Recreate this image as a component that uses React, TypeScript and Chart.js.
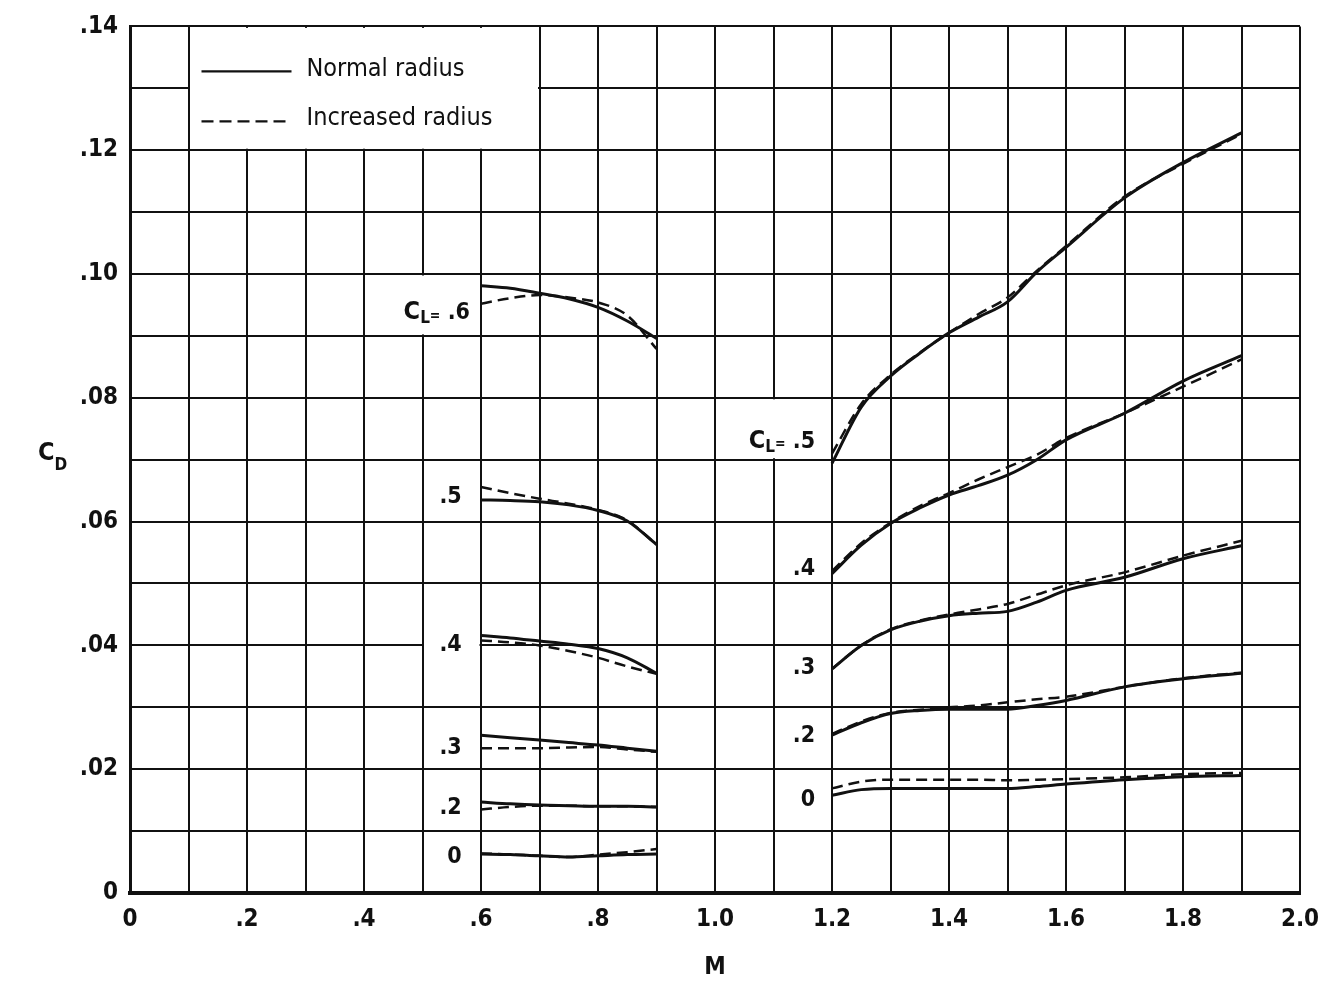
import { useEffect, useRef } from 'react';
import { Chart, registerables } from 'chart.js';

Chart.register(...registerables);

// ---------- data ----------
const machSubsonic = [0.6, 0.65, 0.7, 0.75, 0.8, 0.85, 0.9];
const machSupersonic = [1.2, 1.25, 1.3, 1.35, 1.4, 1.45, 1.5, 1.55, 1.6, 1.7, 1.8, 1.9];

// subsonic, normal radius (solid)
const normalSubCL6 = [0.0981, 0.0977, 0.0969, 0.096, 0.0946, 0.0924, 0.0896];
const normalSubCL5 = [0.0635, 0.0634, 0.0632, 0.0627, 0.0618, 0.0601, 0.0563];
const normalSubCL4 = [0.0416, 0.0412, 0.0407, 0.0402, 0.0395, 0.038, 0.0355];
const normalSubCL3 = [0.0255, 0.0251, 0.0247, 0.0243, 0.0239, 0.0234, 0.0229];
const normalSubCL2 = [0.0147, 0.0144, 0.0142, 0.0141, 0.014, 0.014, 0.0139];
const normalSubCL0 = [0.0063, 0.0062, 0.006, 0.0058, 0.006, 0.0062, 0.0063];

// subsonic, increased radius (dashed)
const increasedSubCL6 = [0.0952, 0.0961, 0.0966, 0.0962, 0.0954, 0.0933, 0.0879];
const increasedSubCL5 = [0.0656, 0.0646, 0.0637, 0.0629, 0.0619, 0.0602, 0.0563];
const increasedSubCL4 = [0.0408, 0.0405, 0.04, 0.0391, 0.038, 0.0366, 0.0354];
const increasedSubCL3 = [0.0234, 0.0234, 0.0234, 0.0235, 0.0236, 0.0232, 0.0228];
const increasedSubCL2 = [0.0135, 0.0139, 0.0141, 0.0141, 0.014, 0.014, 0.0139];
const increasedSubCL0 = [0.0064, 0.0062, 0.006, 0.0058, 0.0062, 0.0066, 0.0071];

// supersonic, normal radius (solid)
const normalSupCL5 = [0.0694, 0.0785, 0.0835, 0.0872, 0.0905, 0.093, 0.0955, 0.1003, 0.1043, 0.1123, 0.118, 0.1228];
const normalSupCL4 = [0.0516, 0.0562, 0.0597, 0.0622, 0.0643, 0.0658, 0.0675, 0.07, 0.0732, 0.0775, 0.0827, 0.0868];
const normalSupCL3 = [0.0362, 0.04, 0.0425, 0.0439, 0.0448, 0.0452, 0.0455, 0.047, 0.0489, 0.051, 0.054, 0.0561];
const normalSupCL2 = [0.0255, 0.0275, 0.029, 0.0295, 0.0297, 0.0297, 0.0297, 0.0303, 0.0311, 0.0333, 0.0346, 0.0355];
const normalSupCL0 = [0.0158, 0.0167, 0.0169, 0.0169, 0.0169, 0.0169, 0.0169, 0.0172, 0.0176, 0.0183, 0.0188, 0.019];

// supersonic, increased radius (dashed)
const increasedSupCL5 = [0.071, 0.079, 0.0837, 0.0873, 0.0905, 0.0935, 0.0962, 0.1005, 0.1045, 0.1125, 0.1178, 0.1226];
const increasedSupCL4 = [0.052, 0.0565, 0.0598, 0.0625, 0.0646, 0.0668, 0.0688, 0.0708, 0.0735, 0.0775, 0.0818, 0.0862];
const increasedSupCL3 = [0.0362, 0.04, 0.0426, 0.044, 0.045, 0.0458, 0.0467, 0.0482, 0.0497, 0.0518, 0.0545, 0.0569];
const increasedSupCL2 = [0.0257, 0.0277, 0.0291, 0.0296, 0.03, 0.0303, 0.0308, 0.0313, 0.0317, 0.0333, 0.0347, 0.0356];
const increasedSupCL0 = [0.0169, 0.018, 0.0183, 0.0183, 0.0183, 0.0183, 0.0182, 0.0183, 0.0184, 0.0187, 0.0192, 0.0194];

const legendLabels = ['Normal radius', 'Increased radius'];
const xTitle = 'M';

// curve labels: text, prefix flag, anchor (mach of right edge, CD of middle)
const curveLabelTexts = ['.6', '.5', '.4', '.3', '.2', '0', '.5', '.4', '.3', '.2', '0'];
const curveLabelWithCL = [true, false, false, false, false, false, true, false, false, false, false];
const curveLabelMach = [0.581, 0.567, 0.567, 0.567, 0.567, 0.567, 1.171, 1.171, 1.171, 1.171, 1.171];
const curveLabelCD = [0.0937, 0.0639, 0.04, 0.0234, 0.0137, 0.0058, 0.0729, 0.0524, 0.0363, 0.0253, 0.015];

// white patches behind labels (grid cells): [m0, m1, cd0, cd1]
const whiteCells = [
  [0.1, 0.7, 0.12, 0.14],
  [0.4, 0.6, 0.09, 0.1],
  [0.5, 0.6, 0.03, 0.05],
  [1.0, 1.2, 0.07, 0.08],
];

const FONT = "'DejaVu Sans Condensed', 'Liberation Sans Narrow', 'DejaVu Sans', sans-serif";

function series(mach: number[], cd: number[], dashed: boolean, label: string) {
  return {
    label,
    data: mach.map((m, i) => ({ x: m, y: cd[i] })),
    borderColor: '#111',
    borderWidth: dashed ? 2.5 : 3,
    borderDash: dashed ? [11, 6] : [],
    pointRadius: 0,
    fill: false,
    cubicInterpolationMode: 'monotone' as const,
  };
}

function drawSegments(
  ctx: CanvasRenderingContext2D,
  rightX: number,
  midY: number,
  segs: { t: string; size: number; dy: number }[]
) {
  let total = 0;
  for (const s of segs) {
    ctx.font = `bold ${s.size}px ${FONT}`;
    total += ctx.measureText(s.t).width;
  }
  let x = rightX - total;
  ctx.textAlign = 'left';
  ctx.textBaseline = 'middle';
  for (const s of segs) {
    ctx.font = `bold ${s.size}px ${FONT}`;
    ctx.fillText(s.t, x, midY + s.dy);
    x += ctx.measureText(s.t).width;
  }
}

const overlayPlugin = {
  id: 'overlay',
  beforeDatasetsDraw(chart: any) {
    const { ctx, scales } = chart;
    const xs = scales.x;
    const ys = scales.y;
    ctx.save();
    ctx.fillStyle = '#fff';
    for (const [m0, m1, c0, c1] of whiteCells) {
      const L = xs.getPixelForValue(m0) + 1.5;
      const R = xs.getPixelForValue(m1) - 1.5;
      const T = ys.getPixelForValue(c1) + 1.5;
      const B = ys.getPixelForValue(c0) - 1.5;
      ctx.fillRect(L, T, R - L, B - T);
    }

    // legend
    const lx = xs.getPixelForValue(0.1);
    const ly = ys.getPixelForValue(0.14);
    ctx.strokeStyle = '#111';
    ctx.lineWidth = 2.2;
    ctx.setLineDash([]);
    ctx.beginPath();
    ctx.moveTo(lx + 13, ly + 45);
    ctx.lineTo(lx + 103, ly + 45);
    ctx.stroke();
    ctx.setLineDash([12, 6]);
    ctx.beginPath();
    ctx.moveTo(lx + 13, ly + 95);
    ctx.lineTo(lx + 103, ly + 95);
    ctx.stroke();
    ctx.setLineDash([]);
    ctx.fillStyle = '#111';
    ctx.font = `500 25px ${FONT}`;
    ctx.textAlign = 'left';
    ctx.textBaseline = 'middle';
    ctx.fillText(legendLabels[0], lx + 118, ly + 43);
    ctx.fillText(legendLabels[1], lx + 118, ly + 92);

    // curve labels
    curveLabelTexts.forEach((t, i) => {
      const rx = xs.getPixelForValue(curveLabelMach[i]);
      const my = ys.getPixelForValue(curveLabelCD[i]);
      const segs = curveLabelWithCL[i]
        ? [
            { t: 'C', size: 25, dy: 0 },
            { t: 'L', size: 17, dy: 6 },
            { t: '=', size: 14, dy: 3 },
            { t: ' ' + t, size: 23, dy: 0 },
          ]
        : [{ t, size: 23, dy: 0 }];
      drawSegments(ctx, rx, my, segs);
    });
    ctx.restore();
  },
  afterDraw(chart: any) {
    const { ctx, chartArea } = chart;
    ctx.save();
    ctx.fillStyle = '#111';
    // y title C_D
    ctx.textAlign = 'left';
    ctx.textBaseline = 'middle';
    ctx.font = `bold 25px ${FONT}`;
    ctx.fillText('C', 38, 453);
    const w = ctx.measureText('C').width;
    ctx.font = `bold 17px ${FONT}`;
    ctx.fillText('D', 38 + w, 466);
    // x title
    ctx.textAlign = 'center';
    ctx.font = `bold 24px ${FONT}`;
    ctx.fillText(xTitle, (chartArea.left + chartArea.right) / 2, 968);
    ctx.restore();
  },
};

export default function App() {
  const ref = useRef<HTMLCanvasElement | null>(null);
  useEffect(() => {
    if (!ref.current) return;
    const chart = new Chart(ref.current, {
      type: 'line',
      data: {
        datasets: [
          series(machSubsonic, normalSubCL6, false, 'sub .6 normal'),
          series(machSubsonic, increasedSubCL6, true, 'sub .6 increased'),
          series(machSubsonic, normalSubCL5, false, 'sub .5 normal'),
          series(machSubsonic, increasedSubCL5, true, 'sub .5 increased'),
          series(machSubsonic, normalSubCL4, false, 'sub .4 normal'),
          series(machSubsonic, increasedSubCL4, true, 'sub .4 increased'),
          series(machSubsonic, normalSubCL3, false, 'sub .3 normal'),
          series(machSubsonic, increasedSubCL3, true, 'sub .3 increased'),
          series(machSubsonic, normalSubCL2, false, 'sub .2 normal'),
          series(machSubsonic, increasedSubCL2, true, 'sub .2 increased'),
          series(machSubsonic, normalSubCL0, false, 'sub 0 normal'),
          series(machSubsonic, increasedSubCL0, true, 'sub 0 increased'),
          series(machSupersonic, normalSupCL5, false, 'sup .5 normal'),
          series(machSupersonic, increasedSupCL5, true, 'sup .5 increased'),
          series(machSupersonic, normalSupCL4, false, 'sup .4 normal'),
          series(machSupersonic, increasedSupCL4, true, 'sup .4 increased'),
          series(machSupersonic, normalSupCL3, false, 'sup .3 normal'),
          series(machSupersonic, increasedSupCL3, true, 'sup .3 increased'),
          series(machSupersonic, normalSupCL2, false, 'sup .2 normal'),
          series(machSupersonic, increasedSupCL2, true, 'sup .2 increased'),
          series(machSupersonic, normalSupCL0, false, 'sup 0 normal'),
          series(machSupersonic, increasedSupCL0, true, 'sup 0 increased'),
        ],
      },
      options: {
        responsive: false,
        animation: false,
        events: [],
        layout: { padding: { left: 0, top: 25, right: 32, bottom: 0 } },
        plugins: {
          legend: { display: false },
          tooltip: { enabled: false },
          title: { display: false },
        },
        scales: {
          x: {
            type: 'linear',
            min: 0,
            max: 2,
            afterFit: (s: any) => {
              s.height = 88;
            },
            border: { display: true, color: '#111', width: 4 },
            grid: { color: '#111', lineWidth: 2, drawTicks: false },
            ticks: {
              stepSize: 0.1,
              autoSkip: false,
              maxRotation: 0,
              padding: 12,
              color: '#111',
              font: { family: FONT, size: 24, weight: 'bold' },
              callback: (v: any) => {
                const n = Math.round(Number(v) * 10);
                if (n % 2 !== 0) return '';
                if (n === 0) return '0';
                if (n < 10) return '.' + n;
                return (n / 10).toFixed(1);
              },
            },
          },
          y: {
            type: 'linear',
            min: 0,
            max: 0.14,
            afterFit: (s: any) => {
              s.width = 130;
            },
            border: { display: true, color: '#111', width: 3 },
            grid: { color: '#111', lineWidth: 2, drawTicks: false },
            ticks: {
              stepSize: 0.01,
              autoSkip: false,
              padding: 12,
              color: '#111',
              font: { family: FONT, size: 24, weight: 'bold' },
              callback: (v: any) => {
                const n = Math.round(Number(v) * 100);
                if (n % 2 !== 0) return '';
                if (n === 0) return '0';
                return '.' + String(n).padStart(2, '0');
              },
            },
          },
        },
      },
      plugins: [overlayPlugin],
    } as any);
    return () => chart.destroy();
  }, []);

  return (
    <div style={{ position: 'fixed', left: 0, top: 0, width: 1332, height: 981, background: '#fff' }}>
      <canvas ref={ref} width={1332} height={981} />
    </div>
  );
}
